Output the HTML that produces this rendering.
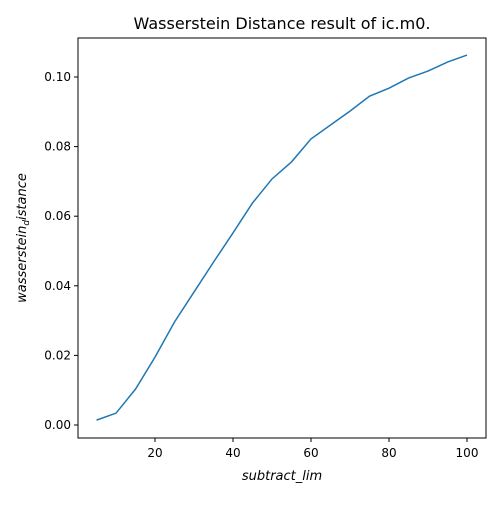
<!DOCTYPE html>
<html><head><meta charset="utf-8"><style>body{margin:0;background:#fff}svg text{font-family:"DejaVu Sans","Liberation Sans",sans-serif;fill:#000}</style></head>
<body>
<svg id="c" width="500" height="500" xmlns="http://www.w3.org/2000/svg">
<rect width="500" height="500" fill="#fff"/>
<text x="282" y="29" font-size="16" text-anchor="middle">Wasserstein Distance result of ic.m0.</text>
<g id="plot"></g>
<rect x="78" y="38" width="408" height="400" fill="none" stroke="#000" stroke-width="1"/>
<text x="282" y="480" font-size="13" font-style="italic" text-anchor="middle">subtract_lim</text>
<text transform="translate(26,238) rotate(-90)" font-size="13" font-style="italic" text-anchor="middle">wasserstein<tspan font-size="9" dy="3">d</tspan><tspan dy="-3">istance</tspan></text>
</svg>
<script>
const xs=[5,10,15,20,25,30,35,40,45,50,55,60,65,70,75,80,85,90,95,100];
const ys=[0.0014,0.0034,0.0103,0.0195,0.0296,0.0382,0.0468,0.0552,0.0638,0.0707,0.0756,0.0822,0.0862,0.0902,0.0945,0.0968,0.0997,0.1017,0.1043,0.1063];
const xTicks=[20,40,60,80,100];
const yTicks=[0,0.02,0.04,0.06,0.08,0.10];
const yTickLabels=["0.00","0.02","0.04","0.06","0.08","0.10"];
const X=v=>77+v*3.9;
const Y=v=>425-v*3480;
const NS="http://www.w3.org/2000/svg";
const g=document.getElementById('plot');
function mk(t,a){const e=document.createElementNS(NS,t);for(const k in a)e.setAttribute(k,a[k]);g.appendChild(e);return e;}
xTicks.forEach(v=>{
  const l=mk('line',{x1:X(v),x2:X(v),y1:438,y2:442,stroke:'#000'});
  
  
  const t=mk('text',{x:X(v),y:457,'font-size':12,'text-anchor':'middle'});t.textContent=v;
  
  
});
yTicks.forEach((v,i)=>{
  const l=mk('line',{x1:74,x2:78,y1:Y(v),y2:Y(v),stroke:'#000'});
  
  
  const t=mk('text',{x:71,y:Y(v)+4,'font-size':12,'text-anchor':'end'});t.textContent=yTickLabels[i];
  
  
});
const p=mk('polyline',{points:xs.map((x,i)=>X(x)+','+Y(ys[i])).join(' '),fill:'none',stroke:'#1f77b4','stroke-width':1.5});


</script>
</body></html>
